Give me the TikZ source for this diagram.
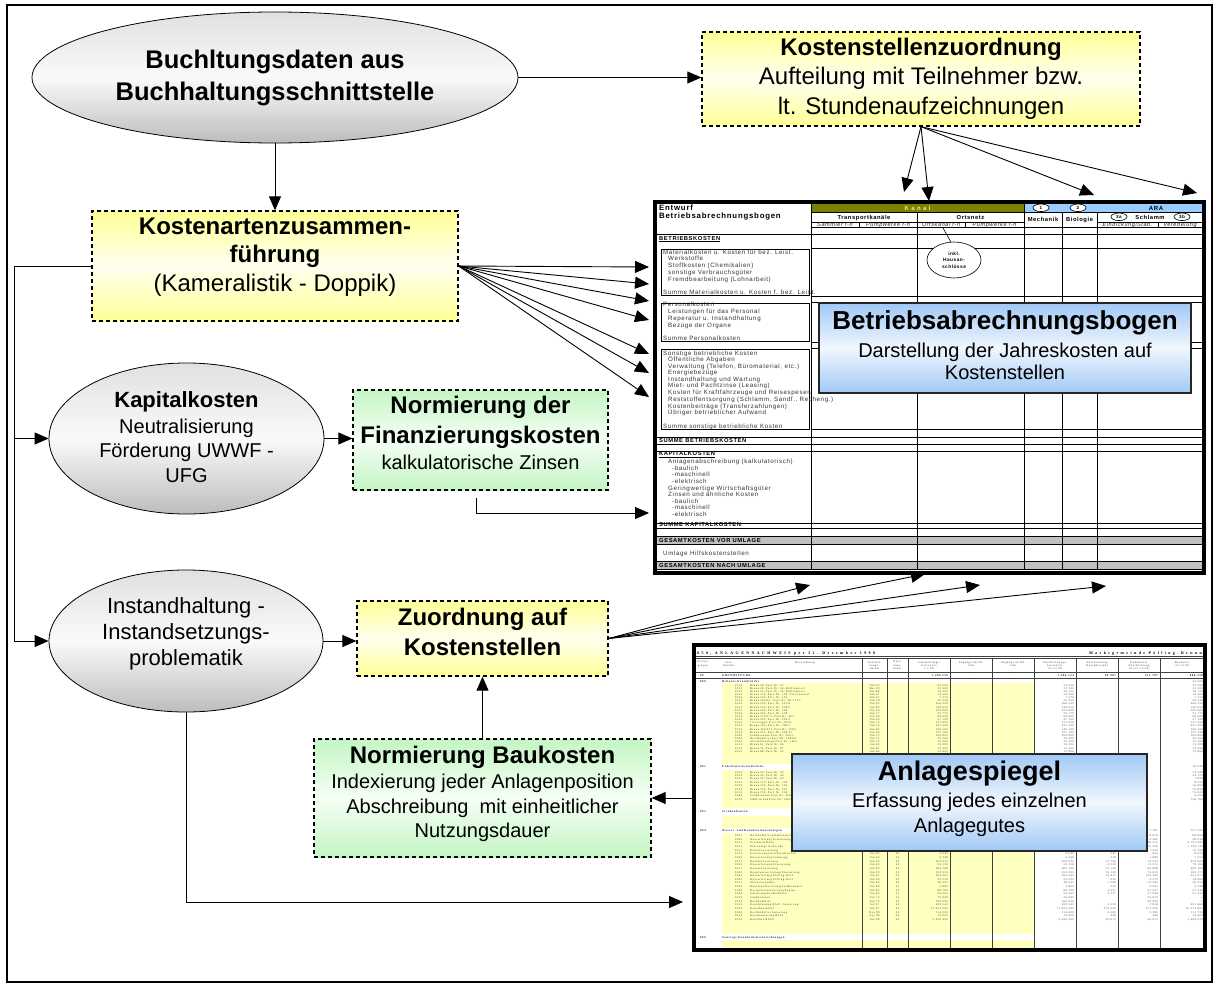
\documentclass[tikz,border=0pt]{standalone}
\usepackage{fontspec}
\setmainfont{Liberation Sans}
\newfontfamily\babfont[LetterSpace=10]{Liberation Sans}
\newfontfamily\asfont[LetterSpace=20]{Liberation Serif}
\newfontfamily\astitlefont[LetterSpace=60]{Liberation Serif}
\usetikzlibrary{shapes.geometric,arrows.meta}

\newcommand\fsz[2]{\fontsize{#1}{#2}\selectfont}

\definecolor{olivebar}{RGB}{128,128,0}
\definecolor{kanaltext}{RGB}{232,232,190}
\definecolor{arablue}{RGB}{153,204,255}
\definecolor{paleyellow}{RGB}{255,255,192}
\definecolor{rowgray}{RGB}{192,192,192}
\definecolor{boxyellow}{RGB}{255,255,150}
\definecolor{boxgreen}{RGB}{196,245,196}
\definecolor{boxblue}{RGB}{160,200,245}

\tikzset{
  flowline/.style={line width=0.9pt, draw=black},
  flowarrow/.style={flowline, -{Triangle[length=14pt,width=12pt]}},
  oval/.style={ellipse, draw, line width=0.8pt, inner sep=0pt,
    top color=gray!24, bottom color=gray!52, middle color=gray!4},
  notebox/.style={rectangle, draw, line width=1.3pt, dash pattern=on 4pt off 3pt, inner sep=0pt},
  yellowbox/.style={notebox, top color=boxyellow, bottom color=boxyellow, middle color=yellow!6},
  greenbox/.style={notebox, top color=boxgreen, bottom color=boxgreen, middle color=green!4},
  infobox/.style={rectangle, draw=black!85, line width=1.2pt, inner sep=0pt,
    top color=boxblue, bottom color=boxblue, middle color=boxblue!15},
  sheet/.style={rectangle, draw, line width=3.2pt, fill=white, inner sep=0pt},
  caption/.style={inner sep=0pt, anchor=north, align=center},
  babtxt/.style={inner sep=0pt, anchor=base west, text=black!80, font=\babfont\fsz{6.2}{7}},
  babhead/.style={inner sep=0pt, anchor=base west, font=\babfont\bfseries\fsz{5.8}{7}},
  babtitle/.style={inner sep=0pt, anchor=base west, font=\babfont\bfseries\fsz{7.8}{9}},
  babcol/.style={inner sep=0pt, anchor=base, font=\babfont\bfseries\fsz{5.8}{7}},
  babsub/.style={inner sep=0pt, anchor=base, text=black!85, font=\babfont\itshape\fsz{5.6}{7}},
  tag/.style={ellipse, draw, fill=white, line width=0.6pt, inner sep=0pt,
    minimum width=16pt, minimum height=7.5pt, font=\babfont\bfseries\fsz{4.6}{5}},
  babrule/.style={line width=0.6pt},
  astxt/.style={inner sep=0pt, text=black!80, font=\asfont\fsz{2.7}{3.2}},
  asgroup/.style={inner sep=0pt, anchor=base west, text=black!85, font=\asfont\bfseries\fsz{2.9}{3.4}},
  asrule/.style={line width=0.5pt, draw=black!75},
}

\begin{document}
\begin{tikzpicture}[x=1pt,y=-1pt]
\useasboundingbox (0,0) rectangle (1217,987);
\fill[white] (0,0) rectangle (1217,987);
\draw[line width=1.6pt] (7,5) rectangle (1212,982);

%% ---------------- Betriebsabrechnungsbogen sheet ----------------
\node[sheet, minimum width=549pt, minimum height=371pt] (bab) at (929.5,387.5) {};
\fill[olivebar] (811,203.6) rectangle (1024,212);
\fill[arablue] (1024,203.6) rectangle (1202.4,212);
\fill[rowgray] (656.6,536) rectangle (1202.4,544);
\fill[rowgray] (656.6,561) rectangle (1202.4,569);
\begin{scope}[babrule]
  \foreach \yy in {234,437,444,451,523,528,536,544,561,569}
    \draw (656.6,\yy) -- (1202.4,\yy);
  \foreach \yy in {212,227,248,296,302,342,348,429}
    \draw (811,\yy) -- (1202.4,\yy);
  \draw (811,222) -- (1024,222);
  \draw (1097,222) -- (1202.4,222);
  \draw (811,203.6) -- (811,569);
  \draw (1024,203.6) -- (1024,569);
  \foreach \xx in {917,1062,1097} \draw (\xx,212) -- (\xx,569);
  \foreach \xx in {859,965,1158} \draw (\xx,222) -- (\xx,227);
  \draw (661,249) rectangle (809,295.5);
  \draw (661,303) rectangle (809,341.5);
  \draw (661,349) rectangle (809,429.5);
\end{scope}

% column headers
\node[babtitle] (babh1) at (659,210) {Entwurf};
\node[babtitle] (babh2) at (659,218.5) {Betriebsabrechnungsbogen};
\node[inner sep=0pt, anchor=base, text=kanaltext, font=\babfont\bfseries\fsz{6}{7}] (babkanal) at (917.5,210.3) {\addfontfeature{LetterSpace=40}Kanal};
\node[inner sep=0pt, anchor=base, font=\babfont\bfseries\fsz{6}{7}] (babara) at (1156,210.3) {ARA};
\node[tag] (babtag1) at (1041,207.8) {1};
\node[tag] (babtag2) at (1078,207.8) {2};
\node[babcol] (babtk) at (864,219.5) {Transportkanäle};
\node[babcol] (babon) at (970.5,219.5) {Ortsnetz};
\node[babcol] (babme) at (1043,221.5) {Mechanik};
\node[babcol] (babbi) at (1079.5,221.5) {Biologie};
\node[babcol] (babsc) at (1150,219.5) {Schlamm};
\node[tag] (babtag3a) at (1119,216.8) {3a};
\node[tag] (babtag3b) at (1182,216.8) {3b};
\foreach \xx/\lab [count=\i] in {835/{Sammler f-n},888/{Pumpwerke f-n},941/{Ortskanal f-n},994.5/{Pumpwerke f-n},1127.5/{Eindickung\slash Stab.},1180/{Veredelung}}
  \node[babsub] (babsub\i) at (\xx,226) {\lab};

% row labels
\node[babhead] (babbk) at (659,240) {\underline{BETRIEBSKOSTEN}};
\foreach \xx/\yy/\rowtext [count=\i] in {
  663/254/{Materialkosten u. Kosten für bez. Leist.},
  668/260.5/{Werkstoffe},
  668/267/{Stoffkosten (Chemikalien)},
  668/274/{sonstige Verbrauchsgüter},
  668/281/{Fremdbearbeitung (Lohnarbeit)},
  663/294/{Summe Materialkosten u. Kosten f. bez. Leist.},
  663/306.5/{Personalkosten},
  668/313.5/{Leistungen für das Personal},
  668/320.5/{Reperatur u. Instandhaltung},
  668/327.5/{Bezüge der Organe},
  663/340.5/{Summe Personalkosten},
  663/355/{Sonstige betriebliche Kosten},
  668/361.5/{Öffentliche Abgaben},
  668/368/{Verwaltung (Telefon, Büromaterial, etc.)},
  668/374.5/{Energiebezüge},
  668/381/{Instandhaltung und Wartung},
  668/387.5/{Miet- und Pachtzinse (Leasing)},
  668/394.5/{Kosten für Kraftfahrzeuge und Reisespesen},
  668/401.5/{Reststoffentsorgung (Schlamm, Sandf., Recheng.)},
  668/408/{Kostenbeiträge (Transferzahlungen)},
  668/414.5/{Übriger betrieblicher Aufwand},
  663/428/{Summe sonstige betriebliche Kosten},
  668/463.5/{Anlagenabschreibung (kalkulatorisch)},
  672/470/{-baulich},
  672/476.5/{-maschinell},
  672/483/{-elektrisch},
  668/490/{Geringwertige Wirtschaftsgüter},
  668/496.5/{Zinsen und ähnliche Kosten},
  672/503/{-baulich},
  672/509.5/{-maschinell},
  672/516.5/{-elektrisch},
  663/555.5/{Umlage Hilfskostenstellen}}
  \node[babtxt] (babrow\i) at (\xx,\yy) {\rowtext};
\node[babhead] (babsb) at (659,442) {SUMME BETRIEBSKOSTEN};
\node[babhead] (babkk) at (659,455.5) {\underline{KAPITALKOSTEN}};
\node[babhead] (babsk) at (659,526.5) {SUMME KAPITALKOSTEN};
\node[babhead] (babgv) at (659,542) {GESAMTKOSTEN VOR UMLAGE};
\node[babhead] (babgn) at (659,567.5) {GESAMTKOSTEN NACH UMLAGE};

% note on house connections
\node[ellipse, draw, fill=white, line width=0.6pt, inner sep=0pt, minimum width=54pt, minimum height=36pt,
  align=center, font=\babfont\bfseries\fsz{4.8}{6.7}] (hausan) at (954,260) {inkl.\\Hausan-\\schlüsse};
\coordinate (hausref) at (943,228);
\draw[line width=0.6pt] (hausref) -- (hausan.100);

%% ---------------- Anlagespiegel sheet ----------------
\node[sheet, minimum width=511pt, minimum height=305pt] (as) at (949.5,797.5) {};
\foreach \ya/\yb in {683/764,770/807.5,815.5/828,833/934,940/947.5}
  \fill[paleyellow] (722,\ya) rectangle (1034,\yb);
\foreach \yy in {656,658.5,672.5,678} \draw[asrule] (695.6,\yy) -- (1203.4,\yy);
\foreach \xx in {862,887,908,950,992,1034,1076,1118,1160} \draw[asrule] (\xx,658.5) -- (\xx,948.4);

\node[inner sep=0pt, anchor=base west, font=\astitlefont\bfseries\fsz{4}{5}] (astitle) at (697,654) {850, ANLAGENNACHWEIS per 31. Dezember 1998};
\node[inner sep=0pt, anchor=base east, font=\astitlefont\bfseries\fsz{4}{5}] (asowner) at (1202,654) {Marktgemeinde Pölling-Brunn};
\foreach \xx/\lab [count=\i] in {703/{Posten-\\gruppe},729/{Teil-\\Abschn.},805/{Bezeichnung},874.5/{Anschaf-\\fungs-\\datum},897.5/{Nutz-\\ungs-\\dauer},929/{Anschaffungs-\\kosten bis\\1.1.98},971/{Zugänge im lfd.\\Jahr},1013/{Abgänge im lfd.\\Jahr},1055/{Abschreibungs-\\kosten bis\\31.12.98},1097/{Abschreibung\\Haushaltsjahr},1139/{Kumulierte\\Abschreibung\\bis 31.12.98},1182/{Buchwert\\31.12.98}}
  \node[astxt, align=center, anchor=north] (ashead\i) at (\xx,661) {\lab};

% totals row
\node[asgroup] (asg00a) at (700,676.6) {00};
\node[asgroup] (asg00b) at (722,676.6) {GRUNDSTÜCKE};
\foreach \xx/\val [count=\i] in {948/1.280.116,1074/1.280.124,1116/29.987,1158/311.787,1203/888.338}
  \node[asgroup, anchor=base east] (astot\i) at (\xx,676.6) {\val};
\node[asgroup, anchor=base] (astotz) at (971,676.6) {-};
\node[asgroup, anchor=base] (astota) at (1013,676.6) {-};

% group captions
\foreach \yy/\gc/\gn [count=\i] in {682/000/{Bebaute Grundstücke},767.5/001/{Unbebaute Grundstücke},812.5/002/{Straßenbauten},831/004/{Wasser- und Kanalisationsanlagen},938.5/006/{Sonstige Grundstückseinrichtungen}}{
  \node[asgroup] (asgc\i) at (700,\yy) {\gc};
  \node[asgroup] (asgn\i) at (722,\yy) {\gn};
}
\node[astxt, anchor=base east] (asgt1) at (1203,682) {33.500};
\node[astxt, anchor=base east] (asgt2) at (1203,767.5) {78.028};
\node[astxt, anchor=base east] (asgt3) at (1158,831) {7.787};
\node[astxt, anchor=base east] (asgt4) at (1203,831) {757.525};

% built-up land
\foreach \acode/\aname/\adate/\aval [count=\i] in {
  6510/{Brunn 49, Parz.Nr. 53}/Jän.93/33.500,
  6510/{Brunn 50, Parz.Nr. 54, Hälfteanteil}/Mai.93/22.300,
  6510/{Brunn 55, Parz.Nr. 60, Hälfteanteil}/Jän.88/18.125,
  6510/{Brunn 119, Parz.Nr. 128, Viertelanteil}/Jän.67/13.500,
  6510/{Brunn 155, Parz.Nr. 163}/Jän.67/7.274,
  6510/{Brunn 182abc, Parz.Nr. 58, 111\slash 1}/Jän.78/26.250,
  6510/{Brunn 250, Parz.Nr. 521\slash 8}/Jän.83/266.550,
  6510/{Brunn 258, Parz.Nr. 558\slash 2}/Jän.83/146.650,
  6510/{Brunn 260, Parz.Nr. 260}/Jän.90/109.800,
  6510/{Brunn 256, Parz.Nr. 238}/Jän.77/29.775,
  6510/{Brunn 270\slash 271, Parz.Nr. 262}/Jän.58/68.600,
  6510/{Brunn 295, Parz.Nr. 399\slash 3}/Jän.69/47.100,
  6510/{13 Garagen, Parz.Nr. 399\slash 3}/Jän.73/127.950,
  6510/{Brunn 300, Parz.Nr. 369\slash 1}/Jän.74/247.300,
  6510/{Brunn 340\slash 341, Parz.Nr. 558\slash 1}/Jän.82/140.100,
  6510/{Brunn 342, Parz.Nr. 558\slash 13}/Jän.96/197.100,
  6500/{Salmbrunnen Parz.Nr. 460\slash 1}/Jän.72/169.800,
  6500/{Hochbehälter Parz.Nr. 1485\slash 8}/Jän.72/36.200,
  6510/{Alte Kläranlage Parz.Nr. 1402}/Jän.72/19.300,
  6510/{Brunn 61, Parz.Nr. 66}/Jän.80/19.300,
  6510/{Brunn 74, Parz.Nr. 81}/Jän.81/13.450,
  6510/{Brunn 88, Parz.Nr. 93}/Jän.84/12.800}{
  \pgfmathsetmacro\yy{686+3.15*(\i-1)}
  \node[astxt, anchor=base west] (asa\i-c) at (735,\yy) {\acode};
  \node[astxt, anchor=base west] (asa\i-n) at (750,\yy) {\aname};
  \node[astxt, anchor=base] (asa\i-d) at (874.5,\yy) {\adate};
  \node[astxt, anchor=base east] (asa\i-k) at (948,\yy) {\aval};
  \node[astxt, anchor=base east] (asa\i-a) at (1074,\yy) {\aval};
  \node[astxt, anchor=base east] (asa\i-b) at (1203,\yy) {\aval};
}

% undeveloped land
\foreach \acode/\aname/\aval [count=\i] in {
  6510/{Brunn 49, Parz.Nr. 53}/74.208,
  6510/{Brunn 50, Parz.Nr. 54}/34.375,
  6510/{Brunn 55, Parz.Nr. 60}/7.650,
  6510/{Brunn 119, Parz.Nr. 128}/8.550,
  6510/{Brunn 155, Parz.Nr. 163}/16.800,
  6510/{Brunn 250, Parz.Nr. 521}/76.876,
  6510/{Brunn 258, Parz.Nr. 558}/76.020,
  6500/{Salmbrunnen Parz.Nr. 460}/4.350,
  6510/{G\&B-Grund Parz.Nr. 1402}/726.766}{
  \pgfmathsetmacro\yy{773+3.4*(\i-1)}
  \node[astxt, anchor=base west] (asb\i-c) at (735,\yy) {\acode};
  \node[astxt, anchor=base west] (asb\i-n) at (750,\yy) {\aname};
  \node[astxt, anchor=base east] (asb\i-b) at (1203,\yy) {\aval};
}

% water supply and sewerage
\foreach \acode/\aname/\adate/\anu/\aak/\ahh/\akum/\abw [count=\i] in {
  6501/{Hochbehälter Salmbrunnen}/Jän.94/25/98.560/3.942/8.870/89.690,
  6500/{Wasserleitung Erneuerung}/Jän.94/25/31.020/1.241/2.482/28.538,
  6511/{Ortskanal BA01}/Jän.93/40/5.180.200/129.505/388.515/4.791.685,
  6513/{Kläranlage Gemeinde}/Jän.93/25/1.421.300/56.852/170.556/1.250.744,
  6511/{Kanalerweiterung}/Jän.92/40/14.200/355/1.420/12.780,
  6510/{Erweiterung Ortskanalisation}/Jän.92/40/9.640/241/964/8.676,
  6500/{Wasserleitung Sohenegg}/Jän.94/25/9.448/378/1.888/7.552,
  6511/{Kanalerweiterung}/Jän.93/40/509.022/12.726/76.353/432.669,
  6500/{Wasserleitung Erneuerung}/Jän.93/40/93.158/2.329/13.974/79.184,
  6511/{Kanalerweiterung}/Jän.93/40/485.188/12.128/84.888/400.300,
  6500/{Hauptwasserleitung Erneuerung}/Jän.93/25/252.993/10.120/70.820/182.173,
  6502/{Wasserleitung Pölling-Dorf}/Jän.91/25/365.263/14.611/123.290/241.973,
  6502/{Wasserleitung Pölling-Dorf}/Jän.90/25/23.239/930/4.373/18.866,
  6511/{Abwasserpumpe}/Jän.89/40/48.537/1.398/12.284/36.253,
  6500/{Wasseraufbereitung Salmbrunnen}/Jän.88/25/5.800/232/2.552/3.248,
  6500/{Dorfgebietssanierung Poglau}/Jän.85/25/88.780/3.551/61.237/27.543,
  6500/{Sanierung Hochbehälter}/Jän.83/25/59.262/2.371/37.948/21.314,
  6510/{Salmbrunnen}/Jän.73/25/76.840/{}/76.839/1,
  6510/{Hochbehälter}/Jän.73/25/100.000/{}/99.999/1,
  6510/{Kanalplanung BA01, Sanierung}/Jul.97/40/209.542/5.239/7.858/201.684,
  6510/{Kanalbau BA02}/Jän.97/40/11.025.960/275.649/751.299/10.274.661,
  6500/{Hochbehälter Sanierung}/Dez.98/25/114.000/2.280/2.280/111.720,
  6510/{Kanalsanierung BA01}/Apr.98/40/19.900/498/498/19.402,
  6510/{Kanalbau BA03}/Jän.98/40/2.020.490/50.812/50.812/1.969.678}{
  \pgfmathsetmacro\yy{836.5+3.65*(\i-1)}
  \node[astxt, anchor=base west] (asc\i-c) at (735,\yy) {\acode};
  \node[astxt, anchor=base west] (asc\i-n) at (750,\yy) {\aname};
  \node[astxt, anchor=base] (asc\i-d) at (874.5,\yy) {\adate};
  \node[astxt, anchor=base] (asc\i-u) at (897.5,\yy) {\anu};
  \node[astxt, anchor=base east] (asc\i-k) at (948,\yy) {\aak};
  \node[astxt, anchor=base east] (asc\i-a) at (1074,\yy) {\aak};
  \node[astxt, anchor=base east] (asc\i-h) at (1116,\yy) {\ahh};
  \node[astxt, anchor=base east] (asc\i-m) at (1158,\yy) {\akum};
  \node[astxt, anchor=base east] (asc\i-b) at (1203,\yy) {\abw};
}

%% ---------------- process boxes ----------------
\node[oval, minimum width=486pt, minimum height=131pt] (e1) at (275,77.5) {};
\node[caption, font=\bfseries\fsz{25.5}{32}] (e1t) at (275,49.5) {Buchltungsdaten aus\\Buchhaltungsschnittstelle};

\node[yellowbox, minimum width=438pt, minimum height=94pt] (kz) at (921,79) {};
\node[caption, font=\fsz{24}{29.5}] (kzt) at (921,37.7) {\textbf{Kostenstellenzuordnung}\\Aufteilung mit Teilnehmer bzw.\\lt. Stundenaufzeichnungen};

\node[yellowbox, minimum width=366pt, minimum height=110pt] (ka) at (275,266) {};
\node[caption, font=\fsz{24}{28.5}] (kat) at (275,217.7) {\textbf{Kostenartenzusammen-}\\\textbf{führung}\\(Kameralistik - Doppik)};

\node[oval, minimum width=275pt, minimum height=151pt] (kk) at (186.5,438.5) {};
\node[caption, font=\fsz{20}{24.5}] (kkt) at (186.5,391.2) {{\fsz{22}{26}\bfseries Kapitalkosten}\\[1.5pt]Neutralisierung\\Förderung UWWF -\\UFG};

\node[greenbox, minimum width=255pt, minimum height=100pt] (fin) at (480.5,440) {};
\node[caption, font=\fsz{20}{26}] (fint) at (480.5,395.7) {{\fsz{24}{29}\bfseries Normierung der}\\[4pt]{\fsz{24}{29}\bfseries Finanzierungskosten}\\kalkulatorische Zinsen};

\node[oval, minimum width=274pt, minimum height=142pt] (ih) at (186,641) {};
\node[caption, font=\fsz{22}{26}] (iht) at (186,597.2) {Instandhaltung -\\Instandsetzungs-\\problematik};

\node[yellowbox, minimum width=251pt, minimum height=75pt] (zo) at (482.5,638.5) {};
\node[caption, font=\bfseries\fsz{24}{30}] (zot) at (482.5,607.7) {Zuordnung auf\\Kostenstellen};

\node[greenbox, minimum width=337pt, minimum height=118pt] (bk) at (482.5,798) {};
\node[caption, font=\fsz{20}{24.7}] (bkt) at (482.5,745.7) {{\fsz{24}{29}\bfseries Normierung Baukosten}\\[0.3pt]Indexierung jeder Anlagenposition\\Abschreibung\ \ mit einheitlicher\\Nutzungsdauer};

\node[infobox, minimum width=372pt, minimum height=90pt] (babov) at (1005,348) {};
\node[caption, font=\fsz{20}{22.5}] (babovt) at (1005,310.3) {{\fsz{26}{30}\bfseries Betriebsabrechnungsbogen}\\[5.5pt]Darstellung der Jahreskosten auf\\Kostenstellen};

\node[infobox, minimum width=355pt, minimum height=97pt] (asov) at (969.5,802.5) {};
\node[caption, font=\fsz{20}{25}] (asovt) at (969.5,760.6) {{\fsz{27}{31}\bfseries Anlagespiegel}\\[2pt]Erfassung jedes einzelnen\\Anlagegutes};

%% ---------------- connectors ----------------
\draw[flowarrow] (e1.south) -- (ka.north);
\draw[flowarrow] (e1.east) -- (e1.east -| kz.west);

\coordinate (busA) at (14,266);
\coordinate (busB) at (14,438.5);
\coordinate (busC) at (14,641);
\draw[flowline] (ka.west) -- (busA) -- (busC);
\draw[flowarrow] (busB) -- (kk.west);
\draw[flowarrow] (busC) -- (ih.west);
\draw[flowarrow] (kk.east) -- (kk.east -| fin.west);
\draw[flowarrow] (ih.east) -- (ih.east -| zo.west);
\draw[flowarrow] (bk.north) -- (zo.south);
\draw[flowarrow] (as.west |- bk.east) -- (bk.east);

\coordinate (asin) at (683,902);
\draw[flowarrow] (ih.south) |- (asin);

\coordinate (finout) at (476,498);
\coordinate (finin) at (649,513);
\draw[flowarrow] (finout) |- (finin);

\foreach \yy [count=\i] in {267,284,301,320,354,373,397}{
  \coordinate (babin\i) at (649,\yy);
  \draw[flowarrow] (ka.east) -- (babin\i);
}
\foreach \xx/\yy [count=\i] in {904/192,929/201,1094/195,1197/193}{
  \coordinate (babtop\i) at (\xx,\yy);
  \draw[flowarrow] (kz.south) -- (babtop\i);
}
\foreach \xx/\yy [count=\i] in {810/585,925/574,980/585,1106/586}{
  \coordinate (babbot\i) at (\xx,\yy);
  \draw[flowarrow] (zo.east) -- (babbot\i);
}
\end{tikzpicture}
\end{document}
